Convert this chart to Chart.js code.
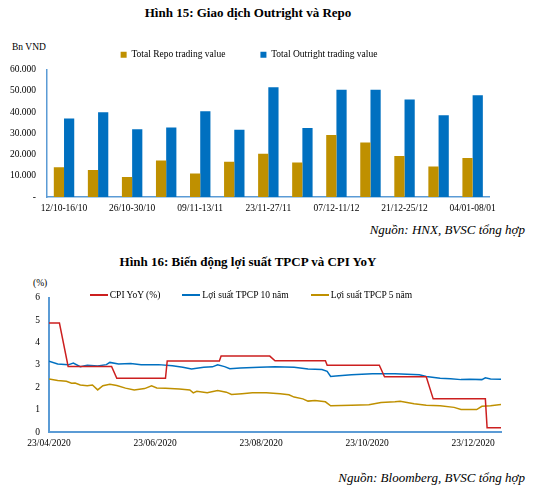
<!DOCTYPE html>
<html>
<head>
<meta charset="utf-8">
<script src="https://cdn.jsdelivr.net/npm/chart.js@4.4.1/dist/chart.umd.min.js"></script>
<style>
  body { margin: 0; background: #fff; width: 535px; height: 493px; position: relative; overflow: hidden; font-family: "Liberation Serif", serif; color: #000; }
  .abs { position: absolute; }
  .title { left: 0; width: 496px; text-align: center; font-weight: bold; font-size: 13px; }
  .src { right: 10px; font-style: italic; font-size: 13px; }
  .unit { font-size: 9.5px; }
  #legend2 { left: 0; width: 502px; display: flex; justify-content: center; font-size: 9.5px; }
  #legend2 .item { display: flex; align-items: center; margin: 0 11px; }
  #legend2 .line { width: 18px; height: 1.5px; margin-right: 2px; }
</style>
</head>
<body>
<div class="abs title" style="top:5px">Hình 15: Giao dịch Outright và Repo</div>
<div class="abs unit" style="left:12px;top:42px">Bn VND</div>
<div class="abs" style="left:0;top:15px;width:502px;height:206px"><canvas id="chart1"></canvas></div>
<div class="abs src" style="top:222px">Nguồn: HNX, BVSC tổng hợp</div>

<div class="abs title" style="top:254px">Hình 16: Biến động lợi suất TPCP và CPI YoY</div>
<div class="abs unit" style="left:33px;top:278px">(%)</div>
<div class="abs" style="left:0;top:283px;width:502px;height:171px"><canvas id="chart2"></canvas></div>
<div class="abs" id="legend2" style="top:290px"></div>
<div class="abs src" style="top:470px">Nguồn: Bloomberg, BVSC tổng hợp</div>

<script>
// Hình 15 - giá trị giao dịch theo tuần (tỷ đồng)
const weeks = ['12/10-16/10', '19/10-23/10', '26/10-30/10', '02/11-06/11', '09/11-13/11', '16/11-20/11', '23/11-27/11',
               '30/11-04/12', '07/12-11/12', '14/12-18/12', '21/12-25/12', '28/12-01/01', '04/01-08/01'];
const repoValues = [14000, 12700, 9400, 17200, 11100, 16600, 20400, 16200, 29200, 25700, 19300, 14400, 18300];
const outrightValues = [36900, 39900, 31900, 32700, 40400, 31600, 51600, 32500, 50500, 50500, 45900, 38500, 47900];

// Hình 16 - lợi suất và CPI (%)
const xTickLabels = ['23/04/2020', '23/06/2020', '23/08/2020', '23/10/2020', '23/12/2020'];
const endDate = '08/01/2021';

const cpiDates = ['23/04/2020', '29/04/2020', '04/05/2020', '29/05/2020', '01/06/2020', '29/06/2020', '30/06/2020',
                  '30/07/2020', '31/07/2020', '28/08/2020', '31/08/2020', '29/09/2020', '30/09/2020', '30/10/2020',
                  '02/11/2020', '26/11/2020', '30/11/2020', '30/12/2020', '31/12/2020', '08/01/2021'];
const cpiValues = [4.87, 4.87, 2.93, 2.93, 2.40, 2.40, 3.17, 3.17, 3.39, 3.39, 3.18, 3.18, 2.98, 2.98,
                   2.47, 2.47, 1.48, 1.48, 0.19, 0.19];

const y10Dates = ['23/04/2020', '28/04/2020', '04/05/2020', '07/05/2020', '11/05/2020', '15/05/2020', '21/05/2020',
                  '26/05/2020', '28/05/2020', '02/06/2020', '09/06/2020', '15/06/2020', '25/06/2020', '03/07/2020',
                  '09/07/2020', '14/07/2020', '21/07/2020', '26/07/2020', '29/07/2020', '02/08/2020', '05/08/2020',
                  '11/08/2020', '22/08/2020', '31/08/2020', '11/09/2020', '19/09/2020', '27/09/2020', '30/09/2020',
                  '02/10/2020', '05/10/2020', '14/10/2020', '26/10/2020', '08/11/2020', '15/11/2020', '22/11/2020',
                  '26/11/2020', '04/12/2020', '10/12/2020', '16/12/2020', '21/12/2020', '28/12/2020', '30/12/2020',
                  '02/01/2021', '08/01/2021'];
const y10Values = [3.16, 3.04, 3.00, 3.08, 2.92, 2.98, 2.95, 3.01, 3.11, 3.04, 3.06, 3.01, 3.01, 2.96,
                   2.89, 2.82, 2.89, 2.91, 3.00, 2.92, 2.83, 2.86, 2.89, 2.91, 2.89, 2.82, 2.79, 2.71,
                   2.48, 2.50, 2.56, 2.60, 2.60, 2.58, 2.56, 2.48, 2.40, 2.38, 2.34, 2.36, 2.34, 2.42,
                   2.37, 2.36];

const y5Dates = ['23/04/2020', '28/04/2020', '03/05/2020', '06/05/2020', '08/05/2020', '11/05/2020', '15/05/2020',
                 '18/05/2020', '21/05/2020', '24/05/2020', '28/05/2020', '01/06/2020', '06/06/2020', '11/06/2020',
                 '17/06/2020', '21/06/2020', '24/06/2020', '29/06/2020', '07/07/2020', '13/07/2020', '15/07/2020',
                 '17/07/2020', '23/07/2020', '29/07/2020', '03/08/2020', '06/08/2020', '12/08/2020', '18/08/2020',
                 '26/08/2020', '03/09/2020', '08/09/2020', '11/09/2020', '16/09/2020', '19/09/2020', '23/09/2020',
                 '29/09/2020', '02/10/2020', '14/10/2020', '24/10/2020', '31/10/2020', '08/11/2020', '11/11/2020',
                 '19/11/2020', '26/11/2020', '04/12/2020', '12/12/2020', '16/12/2020', '25/12/2020', '28/12/2020',
                 '02/01/2021', '08/01/2021'];
const y5Values = [2.37, 2.30, 2.27, 2.18, 2.19, 2.10, 2.07, 2.10, 1.88, 2.07, 2.13, 2.08, 1.96, 1.88,
                  1.94, 2.06, 1.97, 1.96, 1.92, 1.88, 1.75, 1.82, 1.75, 1.85, 1.78, 1.68, 1.71, 1.75,
                  1.75, 1.71, 1.66, 1.56, 1.48, 1.38, 1.41, 1.35, 1.17, 1.19, 1.22, 1.32, 1.35, 1.37,
                  1.26, 1.19, 1.17, 1.10, 1.01, 1.00, 1.15, 1.17, 1.23];

Chart.defaults.font.family = '"Liberation Serif", "Times New Roman", serif';
Chart.defaults.font.size = 9.5;
Chart.defaults.color = '#000';

const GOLD = '#BF9000';
const BLUE = '#0070C0';
const RED = '#CC1F1F';
const AXIS = '#5B9BD5';

// so ngay tinh tu 23/04/2020
function dayOf(s) {
    const [d, m, y] = s.split('/').map(Number);
    return Math.round((Date.UTC(y, m - 1, d) - Date.UTC(2020, 3, 23)) / 86400000);
}
function toPoints(dates, values) {
    return dates.map((d, i) => ({x: dayOf(d), y: values[i]}));
}
function thousands(v) {
    return v === 0 ? '-' : String(v).replace(/\B(?=(\d{3})+(?!\d))/g, '.');
}

// Hình 15
new Chart(document.getElementById('chart1'), {
    type: 'bar',
    data: {
        labels: weeks,
        datasets: [{
            label: 'Total Repo trading value',
            data: repoValues,
            backgroundColor: GOLD
        }, {
            label: 'Total Outright trading value',
            data: outrightValues,
            backgroundColor: BLUE
        }]
    },
    options: {
        responsive: true,
        maintainAspectRatio: false,
        animation: false,
        layout: {padding: {left: 0, right: 4, top: 0, bottom: 0}},
        datasets: {bar: {categoryPercentage: 0.6, barPercentage: 1}},
        plugins: {
            legend: {
                labels: {boxWidth: 6, boxHeight: 6, padding: 35, font: {size: 9.5}}
            },
            tooltip: {enabled: false}
        },
        scales: {
            x: {
                grid: {display: false, drawTicks: false},
                border: {color: AXIS, width: 1.5},
                ticks: {
                    autoSkip: false, maxRotation: 0, padding: 6,
                    callback: function(v, i) { return i % 2 === 0 ? this.getLabelForValue(v) : ''; }
                },
                afterFit: s => { s.height = 24; }
            },
            y: {
                min: 0, max: 60000,
                grid: {display: false, drawTicks: false},
                border: {color: AXIS, width: 1.5},
                ticks: {stepSize: 10000, padding: 11, callback: v => thousands(v)},
                afterFit: s => { s.width = 47; }
            }
        }
    }
});

// Hình 16
const chart2 = new Chart(document.getElementById('chart2'), {
    type: 'line',
    data: {
        datasets: [{
            label: 'CPI YoY (%)',
            data: toPoints(cpiDates, cpiValues),
            borderColor: RED
        }, {
            label: 'Lợi suất TPCP 10 năm',
            data: toPoints(y10Dates, y10Values),
            borderColor: BLUE
        }, {
            label: 'Lợi suất TPCP 5 năm',
            data: toPoints(y5Dates, y5Values),
            borderColor: GOLD
        }]
    },
    options: {
        responsive: true,
        maintainAspectRatio: false,
        animation: false,
        layout: {padding: {left: 0, right: 1, top: 0, bottom: 0}},
        elements: {
            line: {borderWidth: 1.5, tension: 0, fill: false},
            point: {radius: 0}
        },
        plugins: {
            legend: {display: false},
            tooltip: {enabled: false}
        },
        scales: {
            x: {
                type: 'linear',
                min: 0, max: dayOf(endDate),
                grid: {display: false, drawTicks: false},
                border: {color: AXIS, width: 2},
                afterBuildTicks: s => { s.ticks = xTickLabels.map(l => ({value: dayOf(l)})); },
                ticks: {
                    maxRotation: 0, padding: 6,
                    callback: v => xTickLabels.find(l => dayOf(l) === v)
                },
                afterFit: s => { s.height = 22; }
            },
            y: {
                min: 0, max: 6,
                grid: {display: false, drawTicks: false},
                border: {color: AXIS, width: 2},
                ticks: {stepSize: 1, padding: 9},
                afterFit: s => { s.width = 49; }
            }
        }
    }
});

// chu giai dang HTML, dat de len vung ve nhu ban goc
const legend2 = document.getElementById('legend2');
chart2.data.datasets.forEach(ds => {
    const item = document.createElement('div');
    item.className = 'item';
    const line = document.createElement('span');
    line.className = 'line';
    line.style.background = ds.borderColor;
    const text = document.createElement('span');
    text.textContent = ds.label;
    item.appendChild(line);
    item.appendChild(text);
    legend2.appendChild(item);
});
</script>
</body>
</html>
